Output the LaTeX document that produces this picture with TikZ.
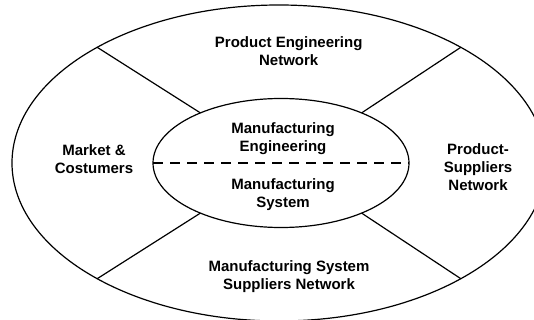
\documentclass[tikz,border=0pt]{standalone}
\usepackage{fontspec}
\setmainfont{Liberation Sans}
\usetikzlibrary{shapes.geometric}
\begin{document}
\begin{tikzpicture}[x=1pt,y=-1pt,
  ring/.style={draw=black, line width=1.2pt, ellipse, inner sep=0pt, outer sep=0pt},
  spoke/.style={draw=black, line width=1.2pt},
  split/.style={draw=black, line width=1.7pt, dash pattern=on 10pt off 7pt},
  label/.style={font=\bfseries\fontsize{15}{18}\selectfont, align=center, inner sep=0pt}]
  \useasboundingbox[fill=white] (0,0) rectangle (534,320);

  % outer ring and inner core
  \node[ring, minimum width=534pt, minimum height=316pt] (outer) at (279,163) {};
  \node[ring, minimum width=256pt, minimum height=129pt] (core) at (281,163) {};

  % dashed split of the core
  \draw[split] (core.west) -- (core.east);

  % spoke end points on both ellipses
  \coordinate (oUL) at (97.2,47.3);
  \coordinate (oUR) at (460.8,47.3);
  \coordinate (oLL) at (97.2,278.7);
  \coordinate (oLR) at (460.8,278.7);
  \coordinate (iUL) at (200.4,112.9);
  \coordinate (iUR) at (361.6,112.9);
  \coordinate (iLL) at (200.4,213.1);
  \coordinate (iLR) at (361.6,213.1);

  \draw[spoke] (oUL) -- (iUL);
  \draw[spoke] (oUR) -- (iUR);
  \draw[spoke] (oLL) -- (iLL);
  \draw[spoke] (oLR) -- (iLR);

  % labels
  \node[label] (pen) at (288.7,51.2) {Product Engineering\\Network};
  \node[label] (meng) at (283,138.2) {Manufacturing\\Engineering};
  \node[label] (msys) at (283,194.2) {Manufacturing\\System};
  \node[label] (mkt) at (94,159.3) {Market \&\\Costumers};
  \node[label] (psn) at (478,167.5) {Product-\\Suppliers\\Network};
  \node[label] (mssn) at (289,276.6) {Manufacturing System\\Suppliers Network};
\end{tikzpicture}
\end{document}
